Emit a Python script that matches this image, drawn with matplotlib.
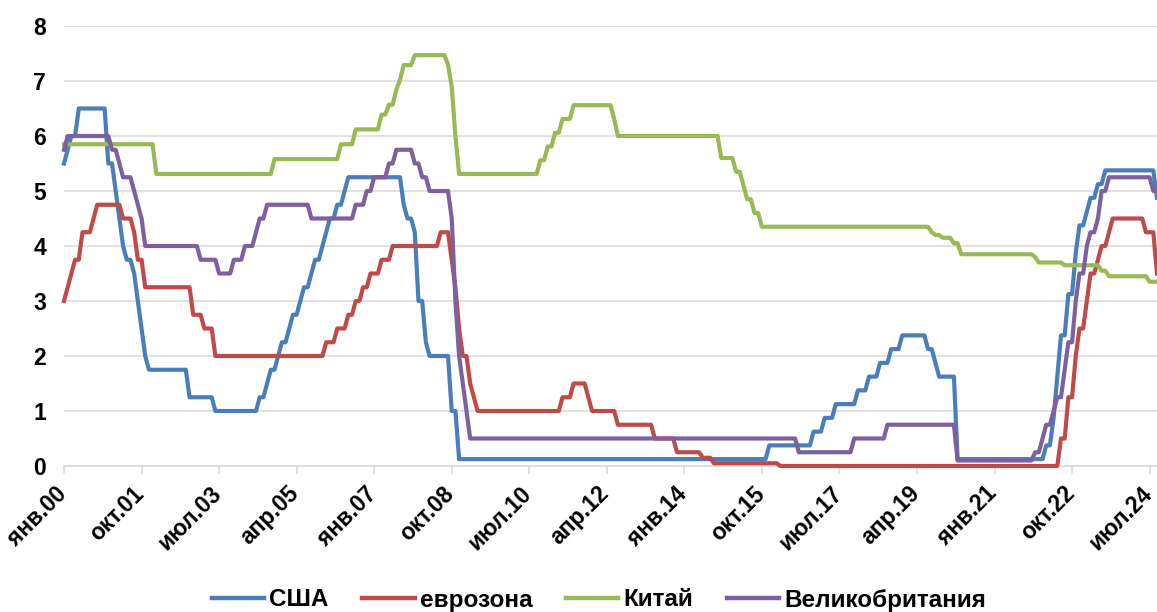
import numpy as np
import matplotlib
matplotlib.use("Agg")
import matplotlib.pyplot as plt
import matplotlib.transforms as mtransforms

plt.rcParams['font.family'] = ['Liberation Sans', 'DejaVu Sans']

# Monthly data Jan 2000 .. Sep 2024 given as (value, number of months) runs
usa_vals = [5.5, 5.75, 6.0, 6.5, 5.5, 5.0, 4.5, 4.0, 3.75, 3.5, 3.0, 2.5, 2.0, 1.75, 1.25, 1.0,
            1.25, 1.5, 1.75, 2.0, 2.25, 2.5, 2.75, 3.0, 3.25, 3.5, 3.75, 4.0, 4.25, 4.5, 4.75, 5.0,
            5.25, 4.75, 4.5, 4.25, 3.0, 2.25, 2.0, 1.0, 0.125, 0.375, 0.625, 0.875, 1.125, 1.375,
            1.625, 1.875, 2.125, 2.375, 2.125, 1.875, 1.625, 0.125, 0.375, 0.875, 1.625, 2.375,
            3.125, 3.875, 4.375, 4.625, 4.875, 5.125, 5.375, 4.875]
usa_runs = [1, 1, 2, 8, 2, 1, 1, 1, 2, 1, 1, 1, 1, 11, 7, 12,
            2, 1, 2, 1, 2, 1, 2, 1, 2, 1, 2, 1, 1, 2, 2, 1,
            15, 1, 2, 1, 2, 1, 6, 2, 84, 12, 3, 3, 6, 3,
            3, 3, 3, 7, 2, 1, 5, 24, 2, 1, 1, 2,
            2, 1, 2, 1, 2, 2, 14, 1]

ez_vals = [3.0, 3.25, 3.5, 3.75, 4.25, 4.5, 4.75, 4.5, 4.25, 3.75, 3.25, 2.75, 2.5, 2.0, 2.25, 2.5,
           2.75, 3.0, 3.25, 3.5, 3.75, 4.0, 4.25, 3.75, 3.25, 2.5, 2.0, 1.5, 1.25, 1.0, 1.25, 1.5,
           1.25, 1.0, 0.75, 0.5, 0.25, 0.15, 0.05, 0.0, 0.5, 1.25, 2.0, 2.5, 3.0, 3.5, 3.75, 4.0,
           4.25, 4.5, 4.25, 3.5]
ez_runs = [1, 1, 1, 2, 3, 1, 7, 3, 1, 2, 13, 3, 3, 30, 3, 3,
           2, 2, 2, 3, 3, 13, 3, 1, 1, 1, 2, 1, 1, 23, 3, 4,
           1, 7, 10, 6, 7, 3, 18, 76, 2, 2, 1, 2, 1, 2, 1, 2,
           1, 9, 3, 1]

cn_vals = [5.85, 5.31, 5.58, 5.85, 6.12, 6.39, 6.57, 6.84, 7.02, 7.29, 7.47, 7.3, 6.9, 6.0, 5.31,
           5.56, 5.81, 6.06, 6.31, 6.56, 6.31, 6.0, 5.6, 5.35, 5.1, 4.85, 4.6, 4.35, 4.25, 4.2,
           4.15, 4.05, 3.85, 3.8, 3.7, 3.65, 3.55, 3.45, 3.35]
cn_runs = [25, 32, 18, 4, 7, 2, 2, 1, 1, 3, 9, 1, 1, 1, 22,
           2, 2, 2, 3, 11, 1, 28, 4, 2, 1, 2, 2, 46, 1, 2,
           3, 2, 20, 1, 7, 10, 2, 11, 3]

uk_vals = [5.75, 6.0, 5.75, 5.5, 5.25, 5.0, 4.75, 4.5, 4.0, 3.75, 3.5, 3.75, 4.0, 4.25, 4.5, 4.75,
           4.5, 4.75, 5.0, 5.25, 5.5, 5.75, 5.5, 5.25, 5.0, 4.5, 3.0, 2.0, 1.5, 1.0, 0.5, 0.25,
           0.5, 0.75, 0.1, 0.25, 0.5, 0.75, 1.0, 1.25, 1.75, 2.25, 3.0, 3.5, 4.0, 4.25, 4.5, 5.0,
           5.25, 5.0]
uk_runs = [1, 12, 2, 1, 3, 1, 1, 1, 15, 5, 4, 3, 3, 1, 2, 12,
           12, 3, 2, 4, 2, 5, 2, 2, 6, 1, 1, 1, 1, 1, 89, 15,
           9, 19, 21, 2, 1, 2, 1, 2, 1, 2, 1, 2, 1, 2, 1, 2,
           12, 2]

tick_labels = ['янв.00', 'окт.01', 'июл.03', 'апр.05', 'янв.07', 'окт.08', 'июл.10', 'апр.12',
               'янв.14', 'окт.15', 'июл.17', 'апр.19', 'янв.21', 'окт.22', 'июл.24']
series_names = ['США', 'еврозона', 'Китай', 'Великобритания']
colors = ['#4A7EBB', '#BE4B48', '#98B954', '#7D60A0']

series = [np.repeat(usa_vals, usa_runs), np.repeat(ez_vals, ez_runs),
          np.repeat(cn_vals, cn_runs), np.repeat(uk_vals, uk_runs)]

W, H = 1157, 612
fig = plt.figure(figsize=(W / 100, H / 100), dpi=100)
ax = fig.add_axes([64 / W, 1 - 466 / H, (1157 - 64) / W, (466 - 26) / H])

for s, name, c in zip(series, series_names, colors):
    ax.plot(np.arange(len(s)), s, color=c, lw=3.0, label=name, solid_joinstyle='round',
            clip_on=False)

ax.set_xlim(0, 296)
ax.set_ylim(0, 8)
ax.set_yticks(range(0, 9))
ax.grid(axis='y', color='#D9D9D9', lw=1.1)
ax.set_axisbelow(True)
for sp in ['top', 'right', 'left']:
    ax.spines[sp].set_visible(False)
ax.spines['bottom'].set_color('#D9D9D9')
ax.spines['bottom'].set_linewidth(1.1)
ax.spines['bottom'].set_zorder(0.5)

ax.tick_params(axis='y', length=0, pad=13, labelsize=16.5)
ax.tick_params(axis='x', length=6, width=1.1, color='#D9D9D9', pad=2, labelsize=16.5)
for lab in ax.get_yticklabels():
    lab.set_fontweight('bold')

ax.set_xticks(np.arange(len(tick_labels)) * 21)
ax.set_xticklabels(tick_labels, rotation=45, ha='right', va='center',
                   rotation_mode='anchor', fontweight='bold')
offset = mtransforms.ScaledTranslation(-1 / 100, -13 / 100, fig.dpi_scale_trans)
for lab in ax.get_xticklabels():
    lab.set_transform(lab.get_transform() + offset)

leg = fig.legend(loc='center', bbox_to_anchor=(599 / W, 1 - 600 / H), ncol=4, frameon=False,
                 prop={'weight': 'bold', 'size': 17.5}, handlelength=2.15, handletextpad=0.2,
                 columnspacing=1.4)
for line in leg.get_lines():
    line.set_linewidth(3.2)

fig.savefig('out.png', dpi=100)
